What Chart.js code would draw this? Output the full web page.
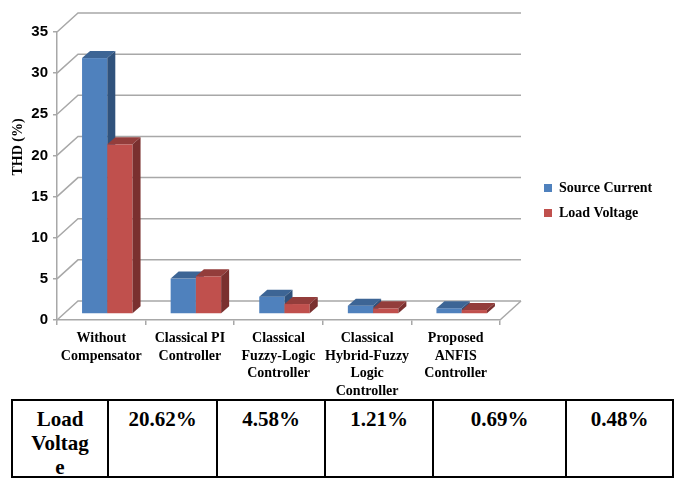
<!DOCTYPE html>
<html>
<head>
<meta charset="utf-8">
<script src="https://cdn.jsdelivr.net/npm/chart.js@4.4.1/dist/chart.umd.min.js"></script>
<style>
html,body{margin:0;padding:0;background:#fff;width:682px;height:478px;overflow:hidden;}
#wrap{position:absolute;left:0;top:0;width:682px;height:398px;}
table{position:absolute;left:11px;top:399px;border-collapse:collapse;table-layout:fixed;width:663px;}
td{border:2px solid #000;font:bold 21px 'Liberation Serif','Times New Roman',serif;color:#000;text-align:center;vertical-align:top;line-height:24px;padding:6px 2px 0 2px;overflow:hidden;}
tr{height:77px;}
.hd{width:64px;margin:0 auto -8px auto;overflow-wrap:anywhere;}
</style>
</head>
<body>
<div id="wrap"><canvas id="c"></canvas></div>
<table id="tbl"><colgroup id="cols"></colgroup><tbody><tr id="row"></tr></tbody></table>
<script>
// ---- data ----
const categories = [
  ['Without', 'Compensator'],
  ['Classical PI', 'Controller'],
  ['Classical', 'Fuzzy-Logic', 'Controller'],
  ['Classical', 'Hybrid-Fuzzy', 'Logic', 'Controller'],
  ['Proposed', 'ANFIS', 'Controller']
];
const seriesNames = ['Source Current', 'Load Voltage'];
const sourceCurrent = [31.1, 4.3, 2.1, 1.0, 0.7];
const loadVoltage = [20.62, 4.58, 1.21, 0.69, 0.48];
const yMin = 0, yMax = 35, yStep = 5;
const yTitle = 'THD (%)';
const tableHeader = 'Load Voltage';
const tableValues = ['20.62%', '4.58%', '1.21%', '0.69%', '0.48%'];

// ---- styles ----
const frontColors = ['#4f81bd', '#c0504d'];
const topColors = ['#3d6595', '#933d3b'];
const sideColors = ['#30527c', '#7a302f'];
const gridColor = '#a8a8a8';
const wallDepth = {dx: 21, dy: -19};
const barOffset = {dx: 6, dy: -6};
const barDepth = {dx: 8, dy: -7};

// ---- table ----
const colWidths = [96, 109, 108, 108, 133, 107];
const cols = document.getElementById('cols');
colWidths.forEach(w => { const c = document.createElement('col'); c.style.width = w + 'px'; cols.appendChild(c); });
const row = document.getElementById('row');
const h = document.createElement('td');
const hd = document.createElement('div'); hd.className = 'hd'; hd.textContent = tableHeader; h.appendChild(hd);
row.appendChild(h);
tableValues.forEach(v => { const td = document.createElement('td'); td.textContent = v; row.appendChild(td); });

// ---- legend sizing ----
const legendFont = {family: "'Liberation Serif', 'Times New Roman', serif", size: 14, weight: 'bold'};
const mctx = document.createElement('canvas').getContext('2d');
mctx.font = "bold 14px 'Liberation Serif', 'Times New Roman', serif";
const maxText = Math.max(...seriesNames.map(s => mctx.measureText(s).width));
const legendPad = 11, legendBox = 8;
const legendW = legendPad + legendBox + legendFont.size / 2 + maxText + 10;
const rightSpace = 182;

const threeD = {
  id: 'threeD',
  afterLayout(chart) {
    const lg = chart.legend;
    if (!lg) return;
    const ca = chart.chartArea;
    const w = lg.width, hgt = lg.height;
    lg.left = ca.right + 33; lg.right = lg.left + w;
    lg.top = ca.top + 138; lg.bottom = lg.top + hgt;
  },
  beforeDatasetsDraw(chart) {
    const ctx = chart.ctx;
    const ca = chart.chartArea;
    const ys = chart.scales.y;
    ctx.save();
    ctx.strokeStyle = gridColor;
    ctx.lineWidth = 1.5;
    ys.ticks.forEach(t => {
      const y = ys.getPixelForValue(t.value);
      ctx.beginPath();
      ctx.moveTo(ca.left, y);
      ctx.lineTo(ca.left + wallDepth.dx, y + wallDepth.dy);
      ctx.lineTo(ca.right + wallDepth.dx, y + wallDepth.dy);
      ctx.stroke();
    });
    const y0 = ys.getPixelForValue(yMin);
    ctx.beginPath();
    ctx.moveTo(ca.right, y0);
    ctx.lineTo(ca.right + wallDepth.dx, y0 + wallDepth.dy);
    ctx.stroke();

    const metas = chart.data.datasets.map((d, i) => chart.getDatasetMeta(i));
    const n = chart.data.labels.length;
    for (let j = 0; j < n; j++) {
      metas.forEach((meta, i) => {
        const el = meta.data[j];
        if (!el) return;
        const p = el.getProps(['x', 'y', 'base', 'width'], true);
        const xl = p.x - p.width / 2 + barOffset.dx;
        const xr = p.x + p.width / 2 + barOffset.dx;
        const yt = Math.min(p.y, p.base) + barOffset.dy;
        const yb = Math.max(p.y, p.base) + barOffset.dy;
        ctx.fillStyle = frontColors[i];
        ctx.fillRect(xl, yt, xr - xl, yb - yt);
        ctx.fillStyle = topColors[i];
        ctx.beginPath();
        ctx.moveTo(xl, yt);
        ctx.lineTo(xl + barDepth.dx, yt + barDepth.dy);
        ctx.lineTo(xr + barDepth.dx, yt + barDepth.dy);
        ctx.lineTo(xr, yt);
        ctx.closePath();
        ctx.fill();
        ctx.fillStyle = sideColors[i];
        ctx.beginPath();
        ctx.moveTo(xr, yt);
        ctx.lineTo(xr + barDepth.dx, yt + barDepth.dy);
        ctx.lineTo(xr + barDepth.dx, yb + barDepth.dy);
        ctx.lineTo(xr, yb);
        ctx.closePath();
        ctx.fill();
      });
    }
    ctx.restore();
    return false;
  },
  afterDraw(chart) {
    const ctx = chart.ctx;
    ctx.save();
    ctx.translate(18, chart.chartArea.top + 115);
    ctx.rotate(-Math.PI / 2);
    ctx.font = "bold 14px 'Liberation Serif', 'Times New Roman', serif";
    ctx.fillStyle = '#000';
    ctx.textAlign = 'center';
    ctx.textBaseline = 'middle';
    ctx.fillText(yTitle, 0, 0);
    ctx.restore();
  }
};

new Chart(document.getElementById('c'), {
  type: 'bar',
  data: {
    labels: categories,
    datasets: [
      {label: seriesNames[0], data: sourceCurrent, backgroundColor: frontColors[0], borderWidth: 0},
      {label: seriesNames[1], data: loadVoltage, backgroundColor: frontColors[1], borderWidth: 0}
    ]
  },
  options: {
    responsive: true,
    maintainAspectRatio: false,
    animation: false,
    events: [],
    datasets: {bar: {categoryPercentage: 0.57, barPercentage: 1.0}},
    layout: {padding: {top: 32, left: 0, bottom: 0, right: Math.max(0, rightSpace - legendW)}},
    plugins: {
      tooltip: {enabled: false},
      legend: {
        position: 'right',
        align: 'start',
        labels: {boxWidth: legendBox, boxHeight: legendBox, padding: legendPad, color: '#000', font: legendFont}
      }
    },
    scales: {
      x: {
        afterFit(s) { s.height = 78; },
        grid: {offset: true, drawOnChartArea: false, drawTicks: true, tickLength: 5, color: gridColor, lineWidth: 1.5},
        border: {display: true, color: gridColor, width: 1.5},
        ticks: {color: '#000', maxRotation: 0, minRotation: 0, autoSkip: false, padding: 5,
          font: {family: "'Liberation Serif', 'Times New Roman', serif", size: 14, weight: 'bold', lineHeight: 17.5 / 14}}
      },
      y: {
        min: yMin, max: yMax,
        afterFit(s) { s.width = 57; },
        grid: {drawOnChartArea: false, drawTicks: true, tickLength: 4, color: gridColor, lineWidth: 1.5},
        border: {display: true, color: gridColor, width: 1.5},
        ticks: {stepSize: yStep, color: '#000', padding: 5,
          font: {family: "'Liberation Sans', Arial, sans-serif", size: 15, weight: 'bold'}}
      }
    }
  },
  plugins: [threeD]
});
</script>
</body>
</html>
